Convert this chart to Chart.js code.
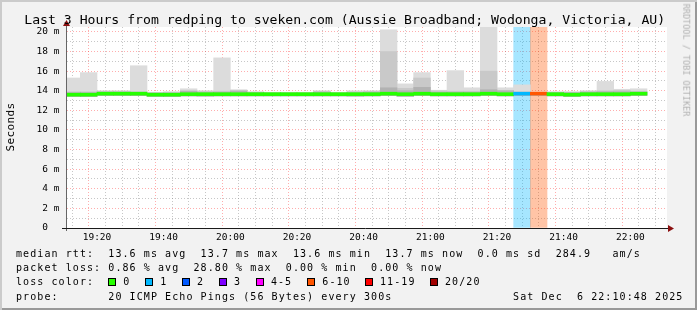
<!DOCTYPE html>
<html>
<head>
<meta charset="utf-8">
<script src="https://cdn.jsdelivr.net/npm/chart.js@4"></script>
<style>
  html, body { margin: 0; padding: 0; }
  body { width: 697px; height: 310px; overflow: hidden; background: #f2f2f2; }
  #wrap { position: relative; width: 697px; height: 310px; background: #f2f2f2; }
  #c { position: absolute; left: 0; top: 0; }
  .t { position: absolute; font-family: 'DejaVu Sans Mono', monospace; white-space: pre; line-height: 1; color: #000; }
  .lg { font-size: 10px; letter-spacing: 1.08px; }
  .box { position: absolute; width: 8px; height: 8px; box-sizing: border-box; border: 1px solid #000; }
  #frame { position: absolute; left: 0; top: 0; width: 697px; height: 310px; pointer-events: none;
           box-shadow: inset 2px 2px 0 #cbcbcb, inset -2px -2px 0 #999999; }
</style>
</head>
<body>
<div id="wrap">
  <canvas id="c" width="697" height="310"></canvas>
  <div class="t" style="left:24.3px; top:12.9px; font-size:13.15px;">Last 3 Hours from redping to sveken.com (Aussie Broadband; Wodonga, Victoria, AU)</div>
  <div class="t" style="left:-14px; top:121px; width:50px; height:12px; line-height:12px; text-align:center; font-size:11px; letter-spacing:0.4px; transform:rotate(-90deg);">Seconds</div>
  <div class="t" style="left:686.2px; top:60px; font-size:8.5px; color:#b0b0b0; transform:translate(-50%,-50%) rotate(90deg);">RRDTOOL / TOBI OETIKER</div>
  <div id="legend"></div>
  <div id="frame"></div>
</div>
<script>
// ---- data ----
const slotTimes = ['19:10','19:15','19:20','19:25','19:30','19:35','19:40','19:45','19:50','19:55',
                   '20:00','20:05','20:10','20:15','20:20','20:25','20:30','20:35','20:40','20:45',
                   '20:50','20:55','21:00','21:05','21:10','21:15','21:20','21:25','21:30','21:35',
                   '21:40','21:45','21:50','21:55','22:00'];
// smoke: lowest ping, upper edge of the denser middle band, band near the median, highest ping (ms)
const smokeMin = [13.55,13.4,13.55,13.55,13.55,13.55,13.4,13.55,13.45,13.55,
                  13.55,13.55,13.55,13.55,13.55,13.55,13.55,13.45,13.55,13.55,
                  13.4,13.55,13.55,13.55,13.55,13.55,13.55,13.55,13.55,13.55,
                  13.45,13.55,13.55,13.55,13.55];
const smokeMid = [13.9,13.9,13.95,13.95,13.9,13.8,13.85,14.0,13.95,13.95,
                  14.05,13.85,13.8,13.8,13.8,13.95,13.8,13.9,13.95,18.0,
                  14.25,15.3,14.0,13.95,13.95,16.0,14.0,13.9,13.75,13.85,
                  13.85,13.95,14.0,14.05,13.95];
const smokeCore = [13.8,13.8,13.85,13.85,13.8,13.75,13.75,13.95,13.8,13.85,
                   13.95,13.8,13.75,13.75,13.75,13.85,13.75,13.8,13.85,14.3,
                   14.0,14.35,13.85,13.85,13.85,14.1,14.0,13.8,13.75,13.8,
                   13.8,13.85,13.9,13.9,13.85];
const smokeMax = [15.3,15.85,14.0,14.0,16.55,13.85,13.9,14.2,14.0,17.35,
                  14.1,13.9,13.85,13.85,13.85,14.0,13.85,14.0,14.0,20.2,
                  14.7,15.85,14.05,16.05,14.3,20.5,14.3,14.6,13.8,13.9,
                  13.9,14.0,14.95,14.15,14.2];
const medianRtt = [13.6,13.6,13.7,13.7,13.7,13.6,13.6,13.65,13.65,13.65,
                   13.65,13.65,13.65,13.65,13.65,13.65,13.65,13.65,13.65,13.7,
                   13.65,13.7,13.65,13.65,13.65,13.7,13.65,13.7,13.7,13.65,
                   13.6,13.65,13.65,13.65,13.7];
const lossPct = [0,0,0,0,0,0,0,0,0,0, 0,0,0,0,0,0,0,0,0,0, 0,0,0,0,0,0,0,5,28.8,0, 0,0,0,0,0];
const axisStart = '19:11', axisEnd = '22:11';
const xTickLabels = ['19:20','19:40','20:00','20:20','20:40','21:00','21:20','21:40','22:00'];
const yTickLabels = ['0  ','2 m','4 m','6 m','8 m','10 m','12 m','14 m','16 m','18 m','20 m'];
const yMax = 20.5;
const lossLegend = [['0','#26ff00'],['1','#00b8ff'],['2','#0059ff'],['3','#7e00ff'],['4-5','#ff00ff'],
                    ['6-10','#ff5500'],['11-19','#ff0000'],['20/20','#a10000']];
const lossLimits = [0,1,2,3,5,10,19,20];

// ---- helpers ----
const toMin = t => { const [h,m] = t.split(':').map(Number); return (h-19)*60 + m; };
const xs = slotTimes.map(t => toMin(t) + 2.5);
function lossIndex(p) { const n = p/100*20; for (let k=0;k<lossLimits.length;k++) if (n <= lossLimits[k]) return k; return lossLimits.length-1; }
function hexA(hex, a) { const v = parseInt(hex.slice(1),16); return `rgba(${v>>16},${(v>>8)&255},${v&255},${a})`; }
const lossCol = lossPct.map(p => lossLegend[lossIndex(p)][1]);
const pts = (lo, hi) => xs.map((x,i) => ({x, y:[lo[i], hi[i]]}));

const xMin = toMin(axisStart), xMax = toMin(axisEnd);
const xTickVals = []; for (let v = Math.ceil(xMin/5)*5; v <= xMax; v += 5) xTickVals.push(v);
const xMajor = new Map(xTickLabels.map(l => [toMin(l), l]));
const yTickVals = []; for (let v = 0; v <= 20; v++) yTickVals.push(v);

const MAJOR = 'rgba(255,0,0,0.32)', MINOR = 'rgba(130,130,130,0.45)';
const tickVal = c => (c && c.tick ? c.tick.value : null);

const bgPlugin = {
  id: 'bg',
  beforeDraw(ch) {
    const {ctx, chartArea: a} = ch;
    ctx.save(); ctx.fillStyle = '#ffffff';
    ctx.fillRect(a.left, a.top, a.right - a.left, a.bottom - a.top);
    ctx.restore();
  },
  afterDraw(ch) {
    const {ctx, chartArea: a} = ch;
    const y0 = ch.scales.y.getPixelForValue(0);
    ctx.save();
    ctx.strokeStyle = '#666'; ctx.lineWidth = 1;
    ctx.beginPath(); ctx.moveTo(a.left - 0.5, y0 + 3); ctx.lineTo(a.left - 0.5, a.top - 3); ctx.stroke();
    ctx.strokeStyle = '#1a1a1a';
    ctx.beginPath(); ctx.moveTo(a.left - 5, y0 + 0.5); ctx.lineTo(a.right + 2, y0 + 0.5); ctx.stroke();
    ctx.fillStyle = '#8b1010';
    ctx.beginPath(); ctx.moveTo(a.right + 1, y0 - 3); ctx.lineTo(a.right + 7, y0 + 0.5); ctx.lineTo(a.right + 1, y0 + 4); ctx.closePath(); ctx.fill();
    ctx.beginPath(); ctx.moveTo(a.left - 4, a.top - 1); ctx.lineTo(a.left - 0.5, a.top - 7); ctx.lineTo(a.left + 3, a.top - 1); ctx.closePath(); ctx.fill();
    ctx.restore();
  }
};

try {
new Chart(document.getElementById('c'), {
  type: 'bar',
  data: {
    datasets: [
      { label: 'loss', order: 5,
        data: xs.map((x,i) => ({x, y:[0, yMax]})).filter((d,i) => lossPct[i] > 0),
        backgroundColor: lossCol.filter((c,i) => lossPct[i] > 0).map(c => hexA(c, 0.35)) },
      { label: 'smoke', order: 4, data: pts(smokeMin, smokeMax), backgroundColor: '#dcdcdc' },
      { label: 'smoke-mid', order: 3, data: pts(smokeMin, smokeMid), backgroundColor: '#c9c9c9' },
      { label: 'smoke-core', order: 2, data: pts(medianRtt.map(m => m - 0.2), smokeCore), backgroundColor: '#b2b2b2' },
      { label: 'median rtt', order: 1,
        data: xs.map((x,i) => ({x, y:[medianRtt[i] - 0.15, medianRtt[i] + 0.15]})),
        backgroundColor: lossCol }
    ]
  },
  options: {
    responsive: false, animation: false, events: [],
    layout: { padding: { left: 0, top: 27, right: 30, bottom: 62 } },
    plugins: { legend: { display: false }, title: { display: false }, tooltip: { enabled: false } },
    datasets: { bar: { grouped: false, barPercentage: 1, categoryPercentage: 1, borderWidth: 0 } },
    scales: {
      x: {
        type: 'linear', min: xMin, max: xMax, offset: false,
        afterBuildTicks: s => { s.ticks = xTickVals.map(v => ({value: v})); },
        afterFit: s => { s.height = 20; },
        ticks: { autoSkip: false, maxRotation: 0, minRotation: 0, padding: 4, color: '#000',
                 font: { family: 'DejaVu Sans Mono', size: 9.5 },
                 callback: v => xMajor.get(v) || '' },
        grid: { drawTicks: false, lineWidth: 1, color: c => (xMajor.has(tickVal(c)) ? MAJOR : MINOR) },
        border: { display: false, dash: [1, 2] }
      },
      y: {
        min: 0, max: yMax,
        afterBuildTicks: s => { s.ticks = yTickVals.map(v => ({value: v})); },
        afterFit: s => { s.width = 67; },
        ticks: { autoSkip: false, padding: 7.5, color: '#000',
                 font: { family: 'DejaVu Sans Mono', size: 9.5 },
                 callback: v => (v % 2 === 0 ? yTickLabels[v/2] : '') },
        grid: { drawTicks: false, lineWidth: 1, color: c => (tickVal(c) !== null && tickVal(c) % 2 === 0 ? MAJOR : MINOR) },
        border: { display: false, dash: [1, 2] }
      }
    }
  },
  plugins: [bgPlugin]
});
} catch (e) { console.error(e); }

// ---- legend below the graph ----
const lg = document.getElementById('legend');
function txt(s, x, top) { const d = document.createElement('div'); d.className = 't lg'; d.style.left = x+'px'; d.style.top = top+'px'; d.textContent = s; lg.appendChild(d); }
txt('median rtt:  13.6 ms avg  13.7 ms max  13.6 ms min  13.7 ms now  0.0 ms sd  284.9   am/s', 16, 248.8);
txt('packet loss: 0.86 % avg  28.80 % max  0.00 % min  0.00 % now', 16, 263.2);
txt('loss color:', 16, 277.3);
const boxX = [108.3, 145.2, 182.1, 219.0, 255.9, 307.3, 365.0, 430.0];
lossLegend.forEach(([lab, col], k) => {
  const b = document.createElement('div'); b.className = 'box';
  b.style.left = boxX[k] + 'px'; b.style.top = '278px'; b.style.background = col; lg.appendChild(b);
  txt(lab, boxX[k] + 15, 277.3);
});
txt('probe:       20 ICMP Echo Pings (56 Bytes) every 300s                 Sat Dec  6 22:10:48 2025', 16, 291.5);
</script>
</body>
</html>
